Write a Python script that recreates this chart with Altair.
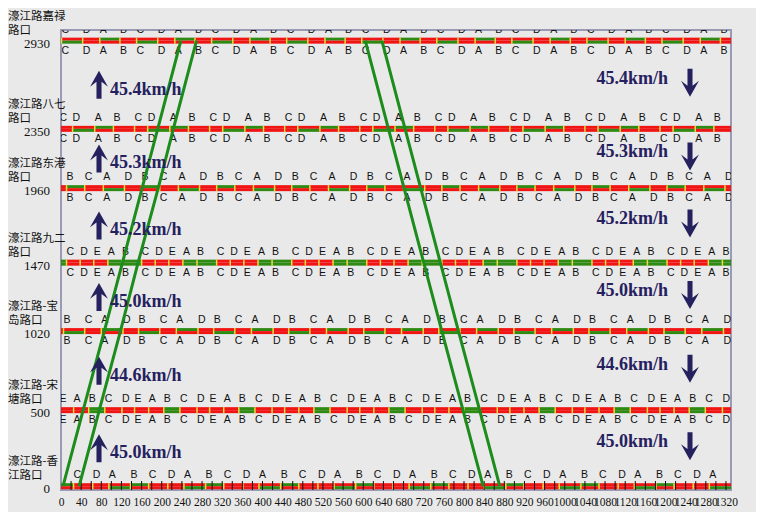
import altair as alt
import pandas as pd

# ---------------- data ----------------
dist = [2930, 2350, 1960, 1470, 1020, 500, 0]
dist_text = ["2930", "2350", "1960", "1470", "1020", "500", "0"]
name_line1 = ["濠江路嘉禄", "濠江路八七", "濠江路东港", "濠江路九二", "濠江路-宝", "濠江路-宋", "濠江路-香"]
name_line2 = ["路口", "路口", "路口", "路口", "岛路口", "塘路口", "江路口"]

cycle_len = 149
x_max = 1330

phase_letters = [
    ["C", "D", "A", "B"],
    ["C", "D", "A", "B"],
    ["B", "C", "A", "D"],
    ["C", "D", "E", "A", "B"],
    ["B", "C", "A", "D"],
    ["E", "A", "B", "C", "D"],
    ["C", "D", "A", "B"],
]
phase_durations = [
    [42, 34, 40, 33],
    [26, 44, 37, 42],
    [36, 37, 42, 34],
    [27, 27, 28, 28, 39],
    [42, 33, 43, 31],
    [28, 30, 32, 34, 25],
    [38, 32, 43, 36],
]
phase_offset = [1, -3, 11, 11, 5, -3, 25]
green_top = [["A"], ["A"], ["B"], ["A", "B"], ["A"], ["B"], ["B"]]
green_bottom = [["C"], ["D"], ["A"], ["A", "B"], ["B"], ["B"], ["A"]]

speed_up = ["45.4km/h", "45.3km/h", "45.2km/h", "45.0km/h", "44.6km/h", "45.0km/h"]
speed_down = ["45.4km/h", "45.3km/h", "45.2km/h", "45.0km/h", "44.6km/h", "45.0km/h"]

up_band_a = [238, 192, 161, 122, 86, 44, 4]
up_band_b = [269, 223, 193, 153, 118, 76, 36]
down_band_a = [604, 650, 681, 720, 756, 798, 838]
down_band_b = [637, 683, 714, 753, 789, 831, 871]

axis_values = list(range(0, 1321, 40))
minor_tick_values = list(range(20, 1321, 20))

# ---------------- styles ----------------
RED = "#f01414"
GREEN = "#2f8a14"
LINE_GREEN = "#1c8c1c"
YELLOW = "#ecdc3c"
NAVY = "#25205e"
BG = "#e9e9e9"

xs = alt.Scale(domain=[0, x_max], nice=False, zero=False)
ys = alt.Scale(domain=[-25, 3000], nice=False, zero=False)
x_axis = alt.Axis(values=axis_values, title=None, domain=False, ticks=False, grid=False,
                  labelFont="Liberation Serif", labelFontSize=11.5, labelColor="#111111",
                  labelOverlap=False, labelPadding=6, labelFlush=False, format="d")


def X(field):
    return alt.X(field, scale=xs, axis=x_axis)


def Y(field):
    return alt.Y(field, scale=ys, axis=None)


# ---------------- build tables ----------------
seg_rows, sep_rows, let_rows = [], [], []
for i, d in enumerate(dist):
    t = phase_offset[i] - 2 * cycle_len
    while t < x_max:
        for L, du in zip(phase_letters[i], phase_durations[i]):
            s, e = t, t + du
            if e > 0 and s < x_max:
                seg_rows.append(dict(d=d, s=max(s, 0), e=min(e, x_max),
                                     top="g" if L in green_top[i] else "r",
                                     bot="g" if L in green_bottom[i] else "r"))
                if s > 0:
                    sep_rows.append(dict(d=d, t=s))
                if s > -6:
                    let_rows.append(dict(d=d, t=s, L=L))
            t = e
seg = pd.DataFrame(seg_rows)
sep = pd.DataFrame(sep_rows)
let = pd.DataFrame(let_rows)

inter = pd.DataFrame(dict(d=dist, n1=name_line1, n2=name_line2, num=dist_text))

mids = [(dist[i] + dist[i + 1]) / 2 for i in range(len(dist) - 1)]
spd = pd.DataFrame(dict(m=mids, up=speed_up, down=speed_down))

lines = []
for name, arr in [("ua", up_band_a), ("ub", up_band_b), ("da", down_band_a), ("db", down_band_b)]:
    for d, t in zip(dist, arr):
        lines.append(dict(id=name, d=d, t=t))
lines = pd.DataFrame(lines)

ticks = pd.DataFrame(dict(t=minor_tick_values))

color_scale = alt.Scale(domain=["g", "r"], range=[GREEN, RED])

# ---------------- layers ----------------
band_top = alt.Chart(seg).mark_rule(strokeWidth=3, strokeCap="butt", yOffset=-1.5, clip=True).encode(
    x=X("s:Q"), x2="e:Q", y=Y("d:Q"),
    color=alt.Color("top:N", scale=color_scale, legend=None),
)
band_bot = alt.Chart(seg).mark_rule(strokeWidth=3, strokeCap="butt", yOffset=1.5, clip=True).encode(
    x=X("s:Q"), x2="e:Q", y=Y("d:Q"),
    color=alt.Color("bot:N", scale=color_scale, legend=None),
)
seps = alt.Chart(sep).mark_tick(orient="vertical", size=6, thickness=1.5, color=YELLOW, opacity=1, clip=True).encode(
    x=X("t:Q"), y=Y("d:Q"),
)
let_top = alt.Chart(let).mark_text(font="Liberation Sans", fontSize=10.5, align="left", baseline="middle",
                                    dy=-11, color="#111111", clip=True).encode(
    x=X("t:Q"), y=Y("d:Q"), text="L:N",
)
let_bot = alt.Chart(let).mark_text(font="Liberation Sans", fontSize=10.5, align="left", baseline="middle",
                                    dy=10, color="#111111", clip=True).encode(
    x=X("t:Q"), y=Y("d:Q"), text="L:N",
)
minor = alt.Chart(ticks).mark_rule(color="#111111", strokeWidth=1).encode(
    x=X("t:Q"), y=alt.value(451), y2=alt.value(460),
)
band_lines = alt.Chart(lines).mark_line(strokeWidth=3, color=LINE_GREEN).encode(
    x=X("t:Q"), y=Y("d:Q"), detail="id:N",
)

names1 = alt.Chart(inter).mark_text(font="Noto Sans CJK SC", fontSize=11.5, align="left", baseline="middle",
                                     dy=-24, color="#111111").encode(
    x=alt.value(-53), y=Y("d:Q"), text="n1:N")
names2 = alt.Chart(inter).mark_text(font="Noto Sans CJK SC", fontSize=11.5, align="left", baseline="middle",
                                     dy=-10, color="#111111").encode(
    x=alt.value(-53), y=Y("d:Q"), text="n2:N")
nums = alt.Chart(inter).mark_text(font="Liberation Serif", fontSize=13, align="right", baseline="middle",
                                   dy=3, color="#111111").encode(
    x=alt.value(-11), y=Y("d:Q"), text="num:N")

UP = "M0,-1L0.64,0.14L0.18,-0.21L0.18,1L-0.18,1L-0.18,-0.21L-0.64,0.14Z"
DOWN = "M0,1L0.64,-0.14L0.18,0.21L0.18,-1L-0.18,-1L-0.18,0.21L-0.64,-0.14Z"

up_arrow = alt.Chart(spd).mark_point(shape=UP, size=784, filled=True, opacity=1, color=NAVY, strokeWidth=0).encode(
    x=alt.value(38), y=Y("m:Q"))
up_text = alt.Chart(spd).mark_text(font="Liberation Serif", fontWeight="bold", fontSize=18, align="left",
                                    baseline="alphabetic", dy=10, color=NAVY).encode(
    x=alt.value(49), y=Y("m:Q"), text="up:N")
down_arrow = alt.Chart(spd).mark_point(shape=DOWN, size=784, filled=True, opacity=1, color=NAVY, strokeWidth=0,
                                       yOffset=-2).encode(
    x=alt.value(629), y=Y("m:Q"))
down_text = alt.Chart(spd).mark_text(font="Liberation Serif", fontWeight="bold", fontSize=18, align="right",
                                      baseline="alphabetic", dy=-1, color=NAVY).encode(
    x=alt.value(607), y=Y("m:Q"), text="down:N")

chart = alt.layer(
    band_top, band_bot, seps, let_top, let_bot, minor, band_lines,
    names1, names2, nums, up_arrow, up_text, down_arrow, down_text,
).properties(
    width=670, height=460, autosize="none",
    padding={"left": 53, "top": 22, "right": 25, "bottom": 22},
    background=BG,
).configure_view(stroke="#9a9ab4", strokeWidth=2, fill=BG)

chart.save("out.html", embed_options={"renderer": "svg", "actions": False})
